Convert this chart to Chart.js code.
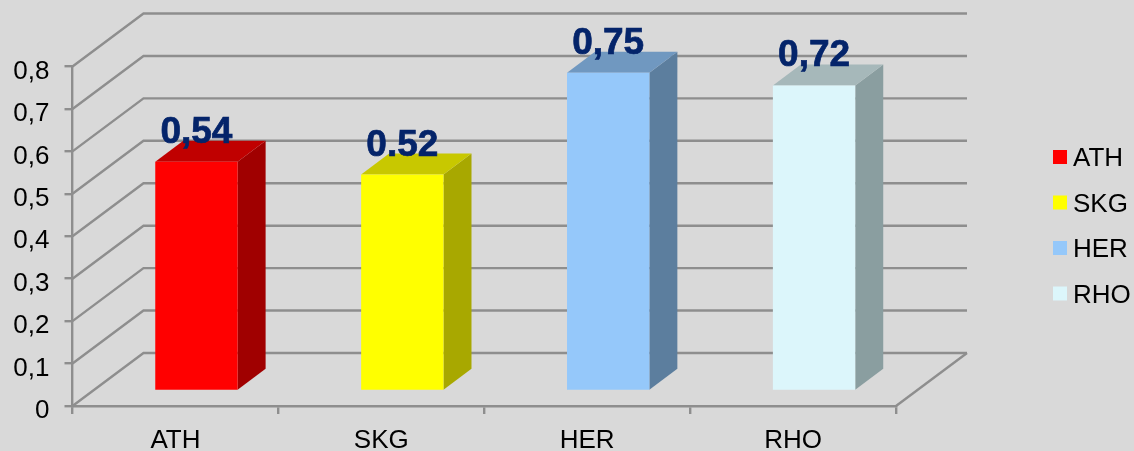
<!DOCTYPE html>
<html>
<head>
<meta charset="utf-8">
<title>ATH SKG HER RHO</title>
<script src="https://cdn.jsdelivr.net/npm/chart.js@4"></script>
<style>
html,body{margin:0;padding:0;background:#d9d9d9;}
#wrap{width:1134px;height:451px;}
</style>
</head>
<body>
<div id="wrap"><canvas id="chart" width="1134" height="451"></canvas></div>
<script>
const categories=['ATH','SKG','HER','RHO'];
const values=[0.54,0.51,0.75,0.72];
const valueLabels=['0,54','0.52','0,75','0,72'];
const yTicks=['0','0,1','0,2','0,3','0,4','0,5','0,6','0,7','0,8'];

const frontColors=['#ff0000','#ffff00','#95c8fa','#dcf6fb'];
const sideColors=['#a00000','#a8a800','#5c7e9e','#8a9ea0'];
const topColors=['#c00000','#c8c800','#7098c0','#a6b8ba'];

const fontName='"Liberation Sans", Arial, sans-serif';
const gridColor='#8e8e8e';
const labelColor='#04246a';

// depth of the walls and of the bars, in px
const wallDx=71, wallDy=-53;
const barShiftX=21, barShiftY=-15;
const barDx=28, barDy=-21;

// back wall and floor, drawn from the y scale
const wallPlugin={
  id:'wall',
  beforeDatasetsDraw(chart){
    let ctx=chart.ctx, y=chart.scales.y, a=chart.chartArea;
    ctx.save();
    ctx.strokeStyle=gridColor; ctx.lineWidth=2.4;
    y.ticks.forEach(t=>{
      let py=y.getPixelForValue(t.value);
      ctx.beginPath();
      ctx.moveTo(a.left,py);
      ctx.lineTo(a.left+wallDx,py+wallDy);
      ctx.lineTo(a.right+wallDx,py+wallDy);
      ctx.stroke();
    });
    let py0=y.getPixelForValue(0);
    ctx.beginPath();
    ctx.moveTo(a.right,py0);
    ctx.lineTo(a.right+wallDx,py0+wallDy);
    ctx.stroke();
    ctx.restore();
  }
};

// shifts the bars back from the axis and adds side and top faces
const bar3dPlugin={
  id:'bar3d',
  beforeDatasetDraw(chart,args){
    let ctx=chart.ctx;
    ctx.save();
    ctx.translate(barShiftX,barShiftY);
    args.meta.data.forEach((b,i)=>{
      let l=b.x-b.width/2, r=b.x+b.width/2;
      ctx.fillStyle=sideColors[i];
      ctx.beginPath();
      ctx.moveTo(r,b.y); ctx.lineTo(r+barDx,b.y+barDy);
      ctx.lineTo(r+barDx,b.base+barDy); ctx.lineTo(r,b.base);
      ctx.closePath(); ctx.fill();
      ctx.fillStyle=topColors[i];
      ctx.beginPath();
      ctx.moveTo(l,b.y); ctx.lineTo(l+barDx,b.y+barDy);
      ctx.lineTo(r+barDx,b.y+barDy); ctx.lineTo(r,b.y);
      ctx.closePath(); ctx.fill();
    });
  },
  afterDatasetDraw(chart){
    chart.ctx.restore();
  },
  afterDatasetsDraw(chart){
    let ctx=chart.ctx, meta=chart.getDatasetMeta(0);
    ctx.save();
    ctx.font='bold 37px '+fontName;
    ctx.fillStyle=labelColor;
    ctx.strokeStyle=labelColor;
    ctx.lineWidth=0.7;
    ctx.textAlign='center';
    ctx.textBaseline='alphabetic';
    meta.data.forEach((b,i)=>{
      ctx.fillText(valueLabels[i],b.x+barShiftX,b.y+barShiftY-19);
      ctx.strokeText(valueLabels[i],b.x+barShiftX,b.y+barShiftY-19);
    });
    ctx.restore();
  }
};

// legend at the right
const legendPlugin={
  id:'sideLegend',
  afterDraw(chart){
    let ctx=chart.ctx;
    ctx.save();
    ctx.font='26px '+fontName;
    ctx.textBaseline='middle';
    ctx.textAlign='left';
    categories.forEach((c,i)=>{
      let cy=157+i*45.5;
      ctx.fillStyle=frontColors[i];
      ctx.fillRect(1053,cy-7,14,14);
      ctx.fillStyle='#000';
      ctx.fillText(c,1073,cy+2);
    });
    ctx.restore();
  }
};

new Chart(document.getElementById('chart'),{
  type:'bar',
  data:{
    labels:categories,
    datasets:[{
      data:values,
      backgroundColor:frontColors,
      barPercentage:0.8,
      categoryPercentage:0.5,
      clip:false
    }]
  },
  options:{
    responsive:false,
    animation:false,
    layout:{padding:{top:66.5,right:238,bottom:0,left:0}},
    plugins:{legend:{display:false},tooltip:{enabled:false}},
    scales:{
      x:{
        afterFit(s){s.height=45;},
        grid:{offset:true,drawOnChartArea:false,color:gridColor,lineWidth:2.4,tickLength:8},
        border:{color:gridColor,width:2.4},
        ticks:{color:'#000',font:{family:fontName,size:26},padding:11,maxRotation:0}
      },
      y:{
        min:0,max:0.8,
        afterFit(s){s.width=72.5;},
        afterBuildTicks(s){s.ticks=yTicks.map((t,i)=>({value:i/10}));},
        // labels sit a little below their tick marks in the reference
        afterUpdate(s){
          let draw=s.drawLabels;
          s.drawLabels=function(area){
            s.ctx.save();
            s.ctx.translate(0,2.5);
            draw.call(s,area);
            s.ctx.restore();
          };
        },
        grid:{drawOnChartArea:false,color:gridColor,lineWidth:2.4,tickLength:8},
        border:{color:gridColor,width:2.4},
        ticks:{
          color:'#000',font:{family:fontName,size:26},padding:15,
          callback(v,i){return yTicks[i];}
        }
      }
    }
  },
  plugins:[wallPlugin,bar3dPlugin,legendPlugin]
});
</script>
</body>
</html>
